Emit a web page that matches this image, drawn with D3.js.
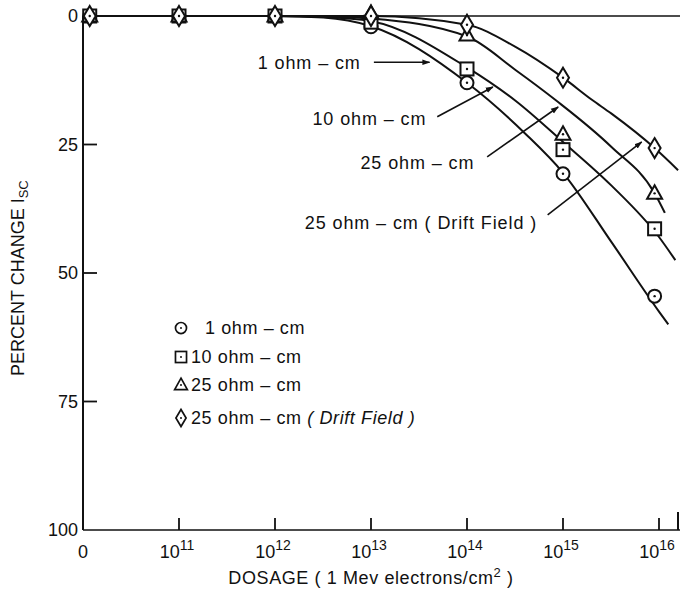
<!DOCTYPE html>
<html>
<head>
<meta charset="utf-8">
<script src="https://cdn.jsdelivr.net/npm/d3@7"></script>
<style>
  html, body { margin: 0; padding: 0; background: #fff; }
  svg { display: block; font-family: "Liberation Sans", Arial, Helvetica, sans-serif; }
</style>
</head>
<body>
<div id="chart"></div>
<script>
"use strict";

// dosage (1 Mev electrons/cm^2), 0 is drawn one decade left of 1e11
var doses = [0, 1e11, 1e12, 1e13, 1e14, 1e15, 9e15];
var tickExps = [11, 12, 13, 14, 15, 16];
var yTicks = [0, 25, 50, 75, 100];

// measured percent change of Isc
var ohm1 = [0, 0, 0, 2.1, 13, 30.7, 54.5];
var ohm10 = [0, 0, 0, 1.2, 10.3, 26, 41.4];
var ohm25 = [0, 0, 0, -0.5, 3.7, 23, 34.5];
var ohm25drift = [0, 0, 0, 0, 1.7, 12, 25.7];

// drawn fit curves [dose, percent]
var fit1 = [[0, 0], [1e12, 0], [3.2e12, 0.3], [1e13, 2], [1e14, 13], [4e14, 22.8], [1e15, 30.5], [3.2e15, 44], [1e16, 57.5], [1.25e16, 60]];
var fit10 = [[0, 0], [1e12, 0], [3.2e12, 0.2], [1e13, 1], [1e14, 10], [3.2e14, 16.5], [1e15, 24.5], [3.2e15, 33], [1e16, 43], [1.48e16, 47.5]];
var fit25 = [[0, 0], [1e12, 0], [3.2e12, 0.1], [1e13, 0.5], [1e14, 4], [3.2e14, 10.5], [8.3e14, 16.3], [3.2e15, 25.5], [9e15, 34.5], [1.15e16, 38.3]];
var fit25drift = [[0, 0], [1e12, 0], [1e13, 0], [1e14, 1.7], [3.2e14, 6], [1e15, 12], [2e15, 16.3], [3.2e15, 19], [9e15, 25.7], [1.58e16, 30]];

var seriesNames = ["1 ohm \u2013 cm", "10 ohm \u2013 cm", "25 ohm \u2013 cm", "25 ohm \u2013 cm"];
var seriesShapes = ["circle", "square", "triangle", "diamond"];

// callout labels: text start [log dose, pct], arrow from/to [log dose, pct]
var notes = [
    { text: "1 ohm \u2013 cm", at: [11.82, 9], from: [13.03, 9], to: [13.61, 9] },
    { text: "10 ohm \u2013 cm", at: [12.39, 20], from: [13.69, 19.6], to: [14.27, 13.8] },
    { text: "25 ohm \u2013 cm", at: [12.89, 28.6], from: [14.21, 27.4], to: [14.95, 17.7] },
    { text: "25 ohm \u2013 cm ( Drift Field )", at: [12.31, 40.1], from: [14.84, 38.7], to: [15.82, 24.5] }
];

var W = 680, H = 591;
var margin = { left: 83, top: 16, right: 20, bottom: 61 };
var FS = 18;

var svg = d3.select("#chart").append("svg").attr("width", W).attr("height", H);

svg.append("defs").append("marker")
    .attr("id", "arrow").attr("viewBox", "0 0 10 10")
    .attr("refX", 9).attr("refY", 5)
    .attr("markerWidth", 5).attr("markerHeight", 5)
    .attr("orient", "auto")
    .append("path").attr("d", "M0,1.5L10,5L0,8.5Z").attr("fill", "#111");

function pos(d) { return d === 0 ? 0 : Math.log10(d) - 10; }
// zero-dose markers sit just inside the axis
function markPos(d) { return d === 0 ? 0.07 : pos(d); }

var x = d3.scaleLinear().domain([0, 6]).range([margin.left, margin.left + 6 * 96]);
var y = d3.scaleLinear().domain([0, 100]).range([margin.top, H - margin.bottom]);

// frame lines
svg.append("line").attr("x1", x(0)).attr("x2", W).attr("y1", y(0)).attr("y2", y(0))
    .attr("stroke", "#111").attr("stroke-width", 1.6);
svg.append("line").attr("x1", x(0)).attr("x2", x(0)).attr("y1", y(0)).attr("y2", y(100))
    .attr("stroke", "#111").attr("stroke-width", 2);
svg.append("line").attr("x1", x(0)).attr("x2", W).attr("y1", y(100)).attr("y2", y(100))
    .attr("stroke", "#111").attr("stroke-width", 1.6);
svg.append("line").attr("x1", W - 2).attr("x2", W - 2).attr("y1", y(100) - 18).attr("y2", y(100))
    .attr("stroke", "#111").attr("stroke-width", 2);

// y axis ticks + labels
var yg = svg.append("g");
yg.selectAll("line").data(yTicks.filter(function (t) { return t > 0 && t < 100; })).enter()
    .append("line")
    .attr("x1", x(0)).attr("x2", x(0) + 14)
    .attr("y1", function (d) { return y(d); }).attr("y2", function (d) { return y(d); })
    .attr("stroke", "#111").attr("stroke-width", 1.8);
yg.selectAll("text").data(yTicks).enter().append("text")
    .attr("x", x(0) - 5).attr("y", function (d) { return y(d); })
    .attr("dy", "0.36em").attr("text-anchor", "end")
    .attr("font-size", FS).attr("fill", "#111")
    .text(function (d) { return d; });

// x axis ticks + labels
var xg = svg.append("g");
xg.selectAll("line").data(tickExps).enter().append("line")
    .attr("x1", function (d) { return x(d - 10); }).attr("x2", function (d) { return x(d - 10); })
    .attr("y1", y(100) - 12).attr("y2", y(100))
    .attr("stroke", "#111").attr("stroke-width", 1.8);
xg.append("text").attr("x", x(0)).attr("y", y(100) + 28)
    .attr("text-anchor", "middle").attr("font-size", FS).attr("fill", "#111").text("0");
var xl = xg.selectAll("text.dec").data(tickExps).enter().append("text")
    .attr("class", "dec")
    .attr("x", function (d) { return x(d - 10) - 2; }).attr("y", y(100) + 28)
    .attr("text-anchor", "middle").attr("font-size", FS).attr("fill", "#111");
xl.append("tspan").text("10");
xl.append("tspan").attr("dy", -8).attr("font-size", 14).text(function (d) { return d; });

// axis titles
var xt = svg.append("text").attr("x", 371).attr("y", H - 7)
    .attr("text-anchor", "middle").attr("font-size", FS).attr("letter-spacing", 0.6).attr("fill", "#111");
xt.append("tspan").text("DOSAGE ( 1 Mev electrons/cm");
xt.append("tspan").attr("dy", -7).attr("font-size", 13).text("2");
xt.append("tspan").attr("dy", 7).text(" )");

var yt = svg.append("text")
    .attr("transform", "translate(24," + y(51) + ") rotate(-90)")
    .attr("text-anchor", "middle").attr("font-size", FS).attr("fill", "#111");
yt.append("tspan").text("PERCENT CHANGE I");
yt.append("tspan").attr("dy", 4).attr("font-size", 13).text("SC");

// fit curves
var line = d3.line()
    .x(function (d) { return x(pos(d[0])); })
    .y(function (d) { return y(d[1]); })
    .curve(d3.curveMonotoneX);

[fit1, fit10, fit25, fit25drift].forEach(function (f) {
    svg.append("path").attr("d", line(f))
        .attr("fill", "none").attr("stroke", "#111").attr("stroke-width", 2);
});

// marker shapes
function drawShape(g, shape) {
    if (shape === "circle") {
        g.append("circle").attr("r", 6.5);
    } else if (shape === "square") {
        g.append("rect").attr("x", -6.5).attr("y", -6.5).attr("width", 13).attr("height", 13);
    } else if (shape === "triangle") {
        g.append("path").attr("d", "M0,-8L7.5,5.5L-7.5,5.5Z");
    } else {
        g.append("path").attr("d", "M0,-10L6,0L0,10L-6,0Z");
    }
    g.selectAll("circle,rect,path").attr("fill", "#fff").attr("stroke", "#111").attr("stroke-width", 2);
    g.append("circle").attr("r", 1.2).attr("fill", "#111");
}

[ohm1, ohm10, ohm25, ohm25drift].forEach(function (vals, i) {
    var pts = svg.append("g").selectAll("g").data(doses).enter().append("g")
        .attr("transform", function (d, j) { return "translate(" + x(markPos(d)) + "," + y(vals[j]) + ")"; });
    pts.each(function () { drawShape(d3.select(this), seriesShapes[i]); });
});

// callouts
notes.forEach(function (n) {
    svg.append("text").attr("x", x(n.at[0] - 10)).attr("y", y(n.at[1]))
        .attr("dy", "0.36em").attr("font-size", FS).attr("letter-spacing", 0.9)
        .attr("fill", "#111").text(n.text);
    svg.append("line")
        .attr("x1", x(n.from[0] - 10)).attr("y1", y(n.from[1]))
        .attr("x2", x(n.to[0] - 10)).attr("y2", y(n.to[1]))
        .attr("stroke", "#111").attr("stroke-width", 1.6)
        .attr("marker-end", "url(#arrow)");
});

// legend
var legend = svg.append("g").attr("transform", "translate(181,328)");
var rows = [0, 29, 57, 90];
seriesNames.forEach(function (name, i) {
    var r = legend.append("g").attr("transform", "translate(0," + rows[i] + ")");
    drawShape(r.append("g").attr("transform", "scale(0.85)"), seriesShapes[i]);
    var t = r.append("text").attr("x", i === 0 ? 24 : 10).attr("dy", "0.36em")
        .attr("font-size", FS).attr("letter-spacing", 0.6).attr("fill", "#111")
        .text(name);
    if (i === 3) t.append("tspan").attr("font-style", "italic").text(" ( Drift Field )");
});
</script>
</body>
</html>
